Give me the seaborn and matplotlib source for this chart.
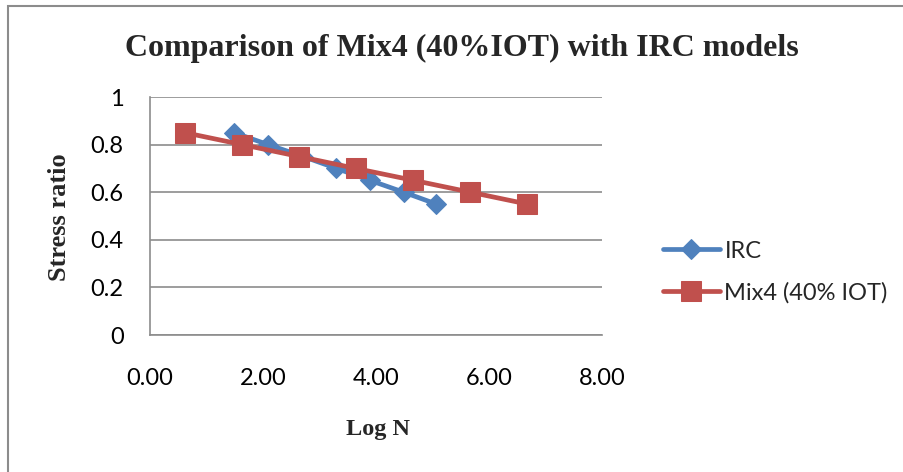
import matplotlib
matplotlib.use("Agg")
import matplotlib.pyplot as plt
from matplotlib.patches import Rectangle
import seaborn as sns
import pandas as pd

# ---- data ----
irc_logn = [1.49, 2.09, 2.71, 3.30, 3.89, 4.49, 5.07]
irc_ratio = [0.85, 0.80, 0.75, 0.70, 0.65, 0.60, 0.55]
mix_logn = [0.62, 1.63, 2.64, 3.64, 4.66, 5.67, 6.68]
mix_ratio = [0.85, 0.80, 0.75, 0.70, 0.65, 0.60, 0.55]
x_ticks = [0, 2, 4, 6, 8]
x_ticklabels = ["0.00", "2.00", "4.00", "6.00", "8.00"]
y_ticks = [0, 0.2, 0.4, 0.6, 0.8, 1.0]
y_ticklabels = ["0", "0.2", "0.4", "0.6", "0.8", "1"]
title = "Comparison of Mix4 (40%IOT) with IRC models"
series_names = ["IRC", "Mix4 (40% IOT)"]

sns.set_theme(style="white")
plt.rcParams['font.family'] = ['Lato', 'DejaVu Sans']

W, H = 904, 472
fig = plt.figure(figsize=(W / 100, H / 100), dpi=100)
fig.patch.set_facecolor("white")
ax = fig.add_axes([150 / W, 1 - 335 / H, 452 / W, 238 / H])

df_irc = pd.DataFrame({"x": irc_logn, "y": irc_ratio})
df_mix = pd.DataFrame({"x": mix_logn, "y": mix_ratio})

blue = "#4F81BD"
red = "#C0504D"
sns.lineplot(data=df_irc, x="x", y="y", ax=ax, sort=False, estimator=None,
             color=blue, linewidth=3.4, marker="D", markersize=10,
             markeredgecolor=blue, markerfacecolor=blue, label=series_names[0], zorder=3)
sns.lineplot(data=df_mix, x="x", y="y", ax=ax, sort=False, estimator=None,
             color=red, linewidth=3.4, marker="s", markersize=14,
             markeredgecolor=red, markerfacecolor=red, label=series_names[1], zorder=4)

ax.set_xlim(0, 8)
ax.set_ylim(0, 1)
ax.set_xticks(x_ticks)
ax.set_xticklabels(x_ticklabels)
ax.set_yticks(y_ticks)
ax.set_yticklabels(y_ticklabels)
ax.set_xlabel("")
ax.set_ylabel("")

grid_c = "#8C8C8C"
ax.grid(axis="y", color=grid_c, linewidth=1.2)
ax.grid(axis="x", visible=False)
ax.set_axisbelow(True)
for s in ["top", "right"]:
    ax.spines[s].set_visible(False)
for s in ["left", "bottom"]:
    ax.spines[s].set_color(grid_c)
    ax.spines[s].set_linewidth(1.2)
ax.tick_params(axis="x", length=0, pad=24, labelsize=17, colors="black")
ax.tick_params(axis="y", length=0, pad=19, labelsize=17, colors="black")

leg = ax.legend(loc="center left", bbox_to_anchor=(663 / W, 1 - 272 / H),
                bbox_transform=fig.transFigure, frameon=False, fontsize=17,
                handlelength=2.4, handletextpad=0.2, labelspacing=0.85,
                borderpad=0, borderaxespad=0)

serif = ["Liberation Serif", "DejaVu Serif"]
fig.text(462 / W, 1 - 48 / H, title, ha="center", va="center",
         fontsize=23, fontweight="bold", family=serif)
fig.text(59 / W, 1 - 217 / H, "Stress ratio", ha="center", va="center",
         rotation=90, fontsize=19, fontweight="bold", family=serif)
fig.text(378 / W, 1 - 430 / H, "Log N", ha="center", va="center",
         fontsize=17.5, fontweight="bold", family=serif)

fig.add_artist(Rectangle((8 / W, -0.2), 2.0, 1.2 - 6 / H, transform=fig.transFigure,
                         fill=False, edgecolor=grid_c, linewidth=1.5, clip_on=False))

fig.savefig("out.png", dpi=100)
